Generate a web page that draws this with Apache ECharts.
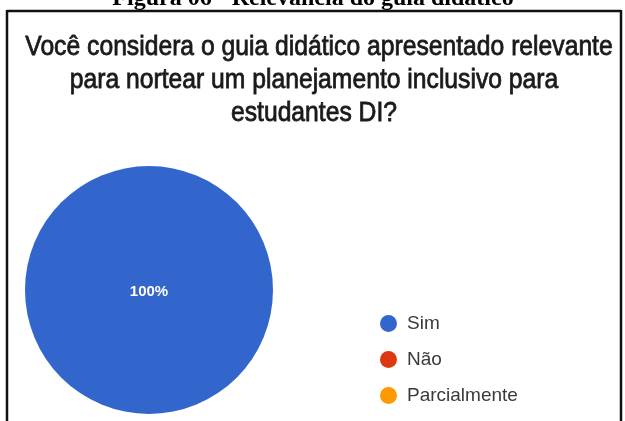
<!DOCTYPE html>
<html>
<head>
<meta charset="utf-8">
<script src="https://cdn.jsdelivr.net/npm/echarts@6/dist/echarts.min.js"></script>
<style>html,body{margin:0;padding:0;background:#fff}#c{width:625px;height:421px}</style>
</head>
<body>
<div id="c"></div>
<script>
const categories = ['Sim', 'Não', 'Parcialmente'];
const values = [100, 0, 0];
const colors = ['#3366CC', '#DC3912', '#FF9900'];
const captionText = 'Figura 06 - Relevância do guia didático';
const titleLines = [
  'Você considera o guia didático apresentado relevante',
  'para nortear um planejamento inclusivo para',
  'estudantes DI?'
];

const chart = echarts.init(document.getElementById('c'), null, {renderer: 'canvas'});

const titleY = [47.5, 80.5, 113.5];
const titleX = [319, 314, 314];
const graphics = [
  {type: 'text', x: 313, y: -1.5, style: {text: captionText, x: 0, y: 0, align: 'center', verticalAlign: 'middle',
    font: 'bold 24px "Liberation Serif", "Times New Roman", serif', fill: '#000'}},
  {type: 'line', shape: {x1: 7, y1: 11, x2: 621, y2: 11}, style: {stroke: '#111', lineWidth: 2.5}},
  {type: 'line', shape: {x1: 7, y1: 10, x2: 7, y2: 421}, style: {stroke: '#111', lineWidth: 2.5}},
  {type: 'line', shape: {x1: 621, y1: 10, x2: 621, y2: 421}, style: {stroke: '#111', lineWidth: 2.5}}
];
titleLines.forEach(function (t, i) {
  graphics.push({type: 'text', x: titleX[i], y: titleY[i], scaleY: 1.1,
    style: {text: t, x: 0, y: 0, align: 'center', verticalAlign: 'middle',
      font: '24.7px "Liberation Sans", Arial, sans-serif', fill: '#1a1a1a',
      stroke: '#1a1a1a', lineWidth: 0.7}});
});

chart.setOption({
  animation: false,
  color: colors,
  graphic: graphics,
  legend: {
    orient: 'vertical',
    left: 375,
    top: 309,
    icon: 'circle',
    itemWidth: 17,
    itemHeight: 17,
    itemGap: 17,
    data: categories,
    textStyle: {fontSize: 19, color: '#3a3a3a', fontFamily: '"Liberation Sans", Arial, sans-serif', padding: [0, 0, 0, 5]}
  },
  series: [{
    type: 'pie',
    center: [149, 290],
    radius: 124,
    startAngle: 90,
    clockwise: true,
    data: categories.map(function (c, i) { return {name: c, value: values[i]}; }),
    label: {
      show: true,
      position: 'center',
      color: '#fff',
      fontSize: 15,
      fontWeight: 'bold',
      offset: [0, 2],
      fontFamily: '"Liberation Sans", Arial, sans-serif',
      formatter: function (p) { return p.value > 0 ? p.percent + '%' : ''; }
    },
    labelLine: {show: false},
    emphasis: {disabled: true},
    itemStyle: {borderWidth: 0}
  }]
});
</script>
</body>
</html>
